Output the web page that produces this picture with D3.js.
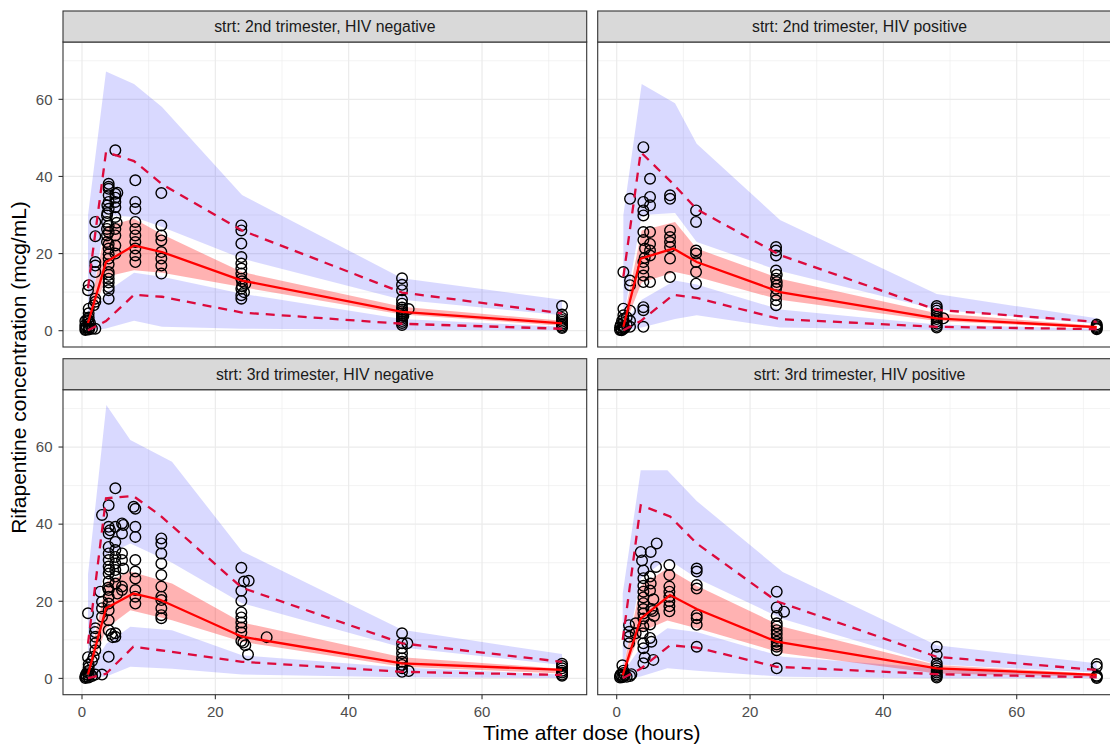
<!DOCTYPE html>
<head>
  <meta charset="utf-8">
  <script src="https://d3js.org/d3.v7.min.js"></script>
  <style>
    body { margin:0; background:#fff; }
    text { font-family: "Liberation Sans", Arial, Helvetica, sans-serif; }
  </style>
</head>
<body>
<script>
// ---- data ----
var stripLabels = ["strt: 2nd trimester, HIV negative", "strt: 2nd trimester, HIV positive",
                   "strt: 3rd trimester, HIV negative", "strt: 3rd trimester, HIV positive"];

// simulated intervals, one row per panel
var simTime = [[0.9, 3.6, 7.8, 12, 24, 48, 72],
               [1.0, 3.75, 8.75, 12, 24.5, 48, 72],
               [0.9, 3.65, 7.25, 13.5, 24, 48, 72],
               [0.9, 3.6, 7.6, 12, 24.9, 48, 72]];
var pi95Hi = [[30, 67.2, 64, 58, 35.2, 13.6, 8.0],
              [30, 64, 59, 48.5, 28.7, 9.5, 3.2],
              [27, 70.9, 61.8, 56.2, 33, 12.6, 6.3],
              [22, 54, 54, 46, 27.6, 8.6, 3.9]];
var pi95Lo = [[2, 30, 29.5, 26.9, 18.7, 8.0, 4.0],
              [3, 30, 30.5, 23, 15.5, 5.5, 1.8],
              [2, 32, 35, 30, 19.5, 8, 3.5],
              [2, 26, 31, 26, 15.4, 3.6, 1.5]];
var medHi = [[3, 27, 29, 25, 15.2, 6.2, 2.6],
             [2.5, 26, 28.2, 21.3, 13.5, 4.5, 1.3],
             [2.5, 25, 27.7, 24.6, 14.5, 5.5, 2.5],
             [2, 24, 28.5, 24, 13.4, 3.5, 1.2]];
var medLo = [[0.5, 14, 15.7, 15, 11.3, 4.2, 1.3],
             [0.5, 12.5, 15.2, 14, 8.0, 2.5, 0.6],
             [0.5, 13, 17.7, 15.1, 9.5, 3.0, 1.3],
             [0.3, 12, 15, 13, 6.5, 1.3, 0.4]];
var pi5Hi = [[1.5, 10, 15, 14, 9.6, 3.0, 1.0],
             [1.5, 8, 13, 12, 5.5, 1.6, 0.5],
             [1.5, 9, 13.4, 12.5, 6.0, 2.8, 1.0],
             [1.5, 8, 13, 12, 5.6, 2.6, 0.8]];
var pi5Lo = [[0, 0.6, 2.6, 1.0, 0.5, 0.2, 0.1],
             [0, 0.8, 3, 4, 0.8, 0.2, 0.05],
             [0, 0.5, 3.0, 2.5, 1.0, 0.3, 0.1],
             [0, 0.5, 2.6, 2.0, 0.4, 0.05, 0.02]];

// observed percentiles
var obsTime = [[0.9, 3.6, 7.8, 12, 24, 48, 72],
               [1.0, 3.6, 8.5, 12, 24.5, 48, 72],
               [0.9, 3.6, 7.7, 11.7, 24, 48, 72],
               [0.9, 3.6, 8, 12, 24, 48, 72]];
var obsP5 = [[0.1, 2.5, 9.3, 8.8, 4.7, 1.8, 0.5],
             [0.1, 2.5, 9.3, 8.5, 3.0, 1.0, 0.4],
             [0.05, 1.2, 8.2, 7.3, 4.3, 1.7, 0.9],
             [0.05, 2.5, 8.6, 8.0, 3.0, 1.1, 0.3]];
var obsP50 = [[2, 17.8, 22.1, 20.4, 13.0, 4.9, 1.9],
              [1, 18.7, 21.3, 17.8, 10.0, 3.2, 0.9],
              [1, 18.2, 22.0, 20.4, 10.8, 3.9, 2.2],
              [0.8, 15.5, 21.6, 18, 9.5, 2.6, 0.9]];
var obsP95 = [[11, 46.3, 44, 38, 26, 9.9, 4.5],
              [14, 46.3, 38, 31.5, 19.6, 5.4, 2.3],
              [9, 46.7, 47.3, 42.3, 23.5, 9.1, 4.3],
              [10, 44.9, 42, 35, 20, 5.6, 2.2]];

// observed concentrations [time, conc]
var obsA = [[0.5,0.2],[0.5,0.8],[0.5,1.5],[0.5,2.5],[0.6,0.4],[0.7,1.0],[0.8,3.0],[1,0.3],[1,0.9],[1,1.8],[1,2.6],[1,3.4],[1,4.5],[1,5.7],[1.1,0.6],[1.2,2.0],[1.5,0.5],[2,0.5],
  [0.9,10.5],[1,11.8],[2,28.2],[2,24.5],[2,17.8],[2,16.9],[2,15.2],[2,8.3],[1.75,6.6],[2,7.5],
  [4,8.3],[4,11.3],[4,13.5],[4,15.2],[4,18.7],[4,21.3],[3.75,23],[3.75,24.7],[3.75,26.4],[3.75,28.2],[3.75,29.9],[4,31.6],[4,33.4],[4,35.1],[4,36.8],[4,38.1],[4,37.3],[3.8,32.5],[3.8,30.5],[4,27.2],[4,25.5],[4,22.5],[4,19.8],[4,17.2],[4,14.5],[4,12.5],[4,10.5],
  [5,46.8],[5,35.5],[5,34.5],[5,33.4],[5,29.5],[5,26.4],[5,24.7],[5,22.1],[5,20.0],[5.3,35.8],[5,32],[5.2,28],
  [8,39],[8,33.4],[8,31.6],[8,28.2],[8,26.4],[8,24.7],[8,23],[8,21.3],[8,19.5],[8,17.8],
  [11.9,35.7],[11.9,27.3],[11.9,24.7],[11.9,23.4],[11.9,20.4],[11.9,18.7],[11.9,16.9],[11.9,14.8],
  [23.9,27.3],[23.9,26],[23.9,22.6],[23.9,19.1],[23.9,17.4],[23.9,16.1],[23.9,14.8],[23.9,13.5],[24,12.8],[24.5,12.2],[23.9,10.9],[23.9,9.2],[23.9,8.3],[24,11.5],[24.3,10],
  [48,13.6],[48,11.9],[48,10.5],[48,8],[48,7],[48,6],[48,5.5],[48,5],[48,4.5],[48,4],[48,3.5],[48,3],[48,2.5],[48,2],[48,1.5],[49,5.6],[48.2,3.8],
  [72,6.4],[72,4.2],[72,3.3],[72,2.8],[72,2.3],[72,1.8],[72,1.4],[72,1.0],[72,0.7]];
var obsB = [[0.5,0.2],[0.5,0.8],[0.6,1.5],[0.7,0.4],[0.8,2.5],[1,0.5],[1,1.0],[1,2.0],[1,3.0],[1,4.0],[1,5.7],[1.2,0.7],[1.5,1.5],[1.5,3.5],[2,1.0],[2,5.2],[0.75,0.1],[2,2.6],
  [1,15.2],[2,13],[2,11.8],[2,34.2],
  [4,47.6],[5,39.4],[4,33.4],[5,34.7],[5,32.5],[4,31.2],[4,29.9],[4,25.6],[5,25.6],[4.25,21.3],[5,20.8],[5,19.5],[4,17.8],[4,16.1],[4,14.3],[4,12.6],[5,12.6],[4,6.1],[4,5.3],[4,1.0],[4,23.5],[5,22.5],[4.2,18.9],
  [8,35.1],[8,34.2],[8,26],[8,24.3],[8,23],[8,21.7],[8,18.7],[8,13.9],
  [11.9,31.2],[11.9,28.2],[11.9,20.8],[11.9,20],[11.9,17.8],[11.9,15.2],[11.9,12.2],
  [23.9,21.7],[23.9,20.8],[23.9,19.5],[23.9,15.6],[23.9,13.5],[24,12.6],[23.9,10.9],[23.9,9.2],[23.9,7.9],[23.9,6.6],[24,14.5],[24,11.7],
  [48,6.4],[48,5.8],[48,5.2],[48,4.4],[48,3.6],[48,3.0],[48,2.4],[48,1.8],[48,1.2],[48,0.8],[49,3.2],
  [72,1.6],[72,1.2],[72,0.9],[72,0.6],[72,0.4]];
var obsC = [[0.5,0.1],[0.5,0.5],[0.6,1.0],[0.7,0.3],[0.8,1.6],[1,0.2],[1,0.8],[1,2.0],[1,2.8],[1,3.6],[1.2,1.2],[1.5,0.6],[1.5,4.5],[2,1.0],[0.9,5.5],
  [0.9,16.9],[2,13],[2,10.8],[2,9.1],[2,7.3],[1.75,5.6],[1.95,12],
  [3,18.2],[3,16],[2.75,22.5],[3,19.9],[3,42.4],[3,1.0],
  [4,44.9],[4,39.3],[4,37.6],[4,34.1],[4,32.4],[4,30.7],[4,29],[4,27.2],[4,25.1],[4,22.9],[4,21.2],[4,19.4],[4,17.7],[4,15.1],[4,12.5],[4,5.6],[4.2,38.4],[3.9,23.5],[4.1,28.2],[4.4,11.5],[4.6,10.7],
  [5,49.3],[5,39.3],[5,35.4],[5,33.3],[5,31.5],[5,29.8],[5,28.1],[5,26.4],[5,24.6],[5,11.7],[5,10.8],[5.3,22],
  [6,40.2],[6,37.6],[6,32.4],[6,30.7],[6,23.8],[6,22.9],[6.2,39.8],[6.2,28.5],
  [7.75,44.5],[8,44],[8,39.3],[8,36.7],[8,30.7],[8,27.7],[8,25.9],[8,22.9],[8,21.2],[8,19.4],
  [11.9,36.3],[11.9,35.0],[11.9,32.4],[11.9,29.8],[11.9,26.8],[11.9,23.8],[11.9,21.2],[11.9,20.3],[11.9,18.2],[11.9,16.4],[11.9,15.6],
  [23.9,28.7],[24.3,25.1],[25,25.3],[23.9,22.7],[23.9,20.1],[23.9,17.1],[23.9,15.8],[23.9,14.5],[23.9,13.2],[23.9,11.9],[23.9,9.7],[24.2,9.3],[24.9,6.2],[27.7,10.7],[24.5,8.6],
  [48,11.7],[48,9.1],[48,7.8],[48,6.5],[48,5.2],[48,4.3],[48,3.5],[48,2.6],[48,1.7],[49,1.9],[48.8,9.1],
  [72,3.8],[72,3.2],[72,2.6],[72,2.0],[72,1.5],[72,1.0],[72,0.7]];
var obsD = [[0.5,0.2],[0.5,0.6],[0.6,1.0],[0.8,0.3],[1,0.5],[1,1.4],[1,2.0],[1.2,0.8],[0.85,3.4],[1.5,0.4],[2,0.6],[2.2,1.1],
  [1.85,13.8],[1.85,12.1],[1.85,10.8],[1.85,9.1],[2.85,14.3],[2.85,11.7],
  [3.6,32.8],[3.8,30.6],[4,28],[4,26],[4,24],[4,22.5],[4,21],[4,19.5],[4,18],[4,16.8],[4,15.5],[4,13.5],[3.9,11.7],[4,9.1],[4,7.8],[4.2,5.4],[4,3.9],
  [5.1,32.8],[6,35],[5.9,28.9],[5,26.4],[5.1,24.6],[5,22.8],[5.5,20.5],[5.2,18],[5.4,17.5],[5.6,16.2],[5,14],[5,10.5],[5.2,9.5],[5.5,4.8],
  [7.9,29.4],[7.9,26.8],[7.9,23.8],[7.9,22.5],[7.9,21.2],[7.9,20],[7.9,18.7],[7.9,17.4],
  [12,28.5],[12,27.7],[12,24.2],[12,23.3],[12,16.4],[12,15.6],[12,13.9],[12,8.2],
  [24,22.5],[24,18.4],[25.1,17.3],[24,16.2],[24,14.3],[24,13.5],[24,12.5],[24,11.5],[24,10.5],[24,9.5],[24,8.8],[24,8.2],[24,7.3],[24,2.6],
  [48,8.2],[48,6.1],[48,3.9],[48,3.2],[48,2.6],[48,2.0],[48,1.5],[48,1.0],[48,0.6],[48,0.2],
  [72,3.7],[72,3.0],[72,0.4],[72,0.1],[72,0.7]];
var obsPoints = [obsA, obsB, obsC, obsD];

var xTicks = [0, 20, 40, 60], xMinor = [10, 30, 50, 70];
var yTicks = [0, 20, 40, 60], yMinor = [10, 30, 50, 70];

// ---- layout ----
var width = 1110, height = 745;
var colX = [63, 597.7], panelW = 523.7;
var rowY = [11, 358.7], stripH = 31, panelH = 305;

var svg = d3.select("body").append("svg")
    .attr("width", width).attr("height", height);

var x = d3.scaleLinear().domain([-2.85, 75.7]).range([0, panelW]);
var y = d3.scaleLinear().domain([-4.23, 74.87]).range([panelH, 0]);

var area = function(lo, hi, t) {
  return d3.area()
    .x(function(d, i) { return x(t[i]); })
    .y0(function(d, i) { return y(lo[i]); })
    .y1(function(d, i) { return y(hi[i]); })(t);
};
var line = function(v, t) {
  return d3.line()
    .x(function(d, i) { return x(t[i]); })
    .y(function(d, i) { return y(v[i]); })(t);
};

stripLabels.forEach(function(label, p) {
  var col = p % 2, row = Math.floor(p / 2);
  var g = svg.append("g")
      .attr("transform", "translate(" + colX[col] + "," + (rowY[row] + stripH) + ")");

  // strip
  svg.append("rect")
      .attr("x", colX[col]).attr("y", rowY[row])
      .attr("width", panelW).attr("height", stripH)
      .attr("fill", "#D9D9D9").attr("stroke", "#333333").attr("stroke-width", 1.1);
  svg.append("text")
      .attr("x", colX[col] + panelW / 2).attr("y", rowY[row] + 21.3)
      .attr("text-anchor", "middle").attr("font-size", "15.8px").attr("fill", "#1A1A1A")
      .text(label);

  g.append("clipPath").attr("id", "clip" + p)
    .append("rect").attr("width", panelW).attr("height", panelH);

  // grid
  var grid = g.append("g");
  grid.selectAll(".xm").data(xMinor).enter().append("line")
      .attr("x1", x).attr("x2", x).attr("y1", 0).attr("y2", panelH)
      .attr("stroke", "#EBEBEB").attr("stroke-width", 0.6);
  grid.selectAll(".ym").data(yMinor).enter().append("line")
      .attr("y1", y).attr("y2", y).attr("x1", 0).attr("x2", panelW)
      .attr("stroke", "#EBEBEB").attr("stroke-width", 0.6);
  grid.selectAll(".xM").data(xTicks).enter().append("line")
      .attr("x1", x).attr("x2", x).attr("y1", 0).attr("y2", panelH)
      .attr("stroke", "#EBEBEB").attr("stroke-width", 1.2);
  grid.selectAll(".yM").data(yTicks).enter().append("line")
      .attr("y1", y).attr("y2", y).attr("x1", 0).attr("x2", panelW)
      .attr("stroke", "#EBEBEB").attr("stroke-width", 1.2);

  var plot = g.append("g").attr("clip-path", "url(#clip" + p + ")");
  var t = simTime[p];

  // simulated ribbons
  plot.append("path").attr("d", area(pi95Lo[p], pi95Hi[p], t))
      .attr("fill", "blue").attr("fill-opacity", 0.15);
  plot.append("path").attr("d", area(pi5Lo[p], pi5Hi[p], t))
      .attr("fill", "blue").attr("fill-opacity", 0.15);
  plot.append("path").attr("d", area(medLo[p], medHi[p], t))
      .attr("fill", "red").attr("fill-opacity", 0.3);

  // observations
  plot.selectAll("circle").data(obsPoints[p]).enter().append("circle")
      .attr("cx", function(d) { return x(d[0]); })
      .attr("cy", function(d) { return y(d[1]); })
      .attr("r", 5.3)
      .attr("fill", "none").attr("stroke", "black").attr("stroke-width", 1.4);

  // observed percentiles
  var to = obsTime[p];
  plot.append("path").attr("d", line(obsP50[p], to))
      .attr("fill", "none").attr("stroke", "#FF0000").attr("stroke-width", 2.3);
  [obsP5[p], obsP95[p]].forEach(function(v) {
    plot.append("path").attr("d", line(v, to))
        .attr("fill", "none").attr("stroke", "#DC0A3C").attr("stroke-width", 2.3)
        .attr("stroke-dasharray", "9,7");
  });

  // border
  g.append("rect").attr("width", panelW).attr("height", panelH)
      .attr("fill", "none").attr("stroke", "#333333").attr("stroke-width", 1.1);

  // axes
  if (col == 0) {
    g.selectAll(".yt").data(yTicks).enter().append("line")
        .attr("x1", -4.5).attr("x2", 0).attr("y1", y).attr("y2", y)
        .attr("stroke", "#333333").attr("stroke-width", 1.1);
    g.selectAll(".yl").data(yTicks).enter().append("text")
        .attr("x", -10.5).attr("y", function(d) { return y(d) + 5.3; })
        .attr("text-anchor", "end").attr("font-size", "15px").attr("fill", "#4D4D4D")
        .text(function(d) { return d; });
  }
  if (row == 1) {
    g.selectAll(".xt").data(xTicks).enter().append("line")
        .attr("y1", panelH).attr("y2", panelH + 4.5).attr("x1", x).attr("x2", x)
        .attr("stroke", "#333333").attr("stroke-width", 1.1);
    g.selectAll(".xl").data(xTicks).enter().append("text")
        .attr("x", x).attr("y", panelH + 22.6)
        .attr("text-anchor", "middle").attr("font-size", "15px").attr("fill", "#4D4D4D")
        .text(function(d) { return d; });
  }
});

// axis titles
svg.append("text")
    .attr("x", 591.7).attr("y", 740)
    .attr("text-anchor", "middle").attr("font-size", "21px").attr("fill", "black")
    .text("Time after dose (hours)");
svg.append("text")
    .attr("transform", "translate(25.5,367.5) rotate(-90)")
    .attr("text-anchor", "middle").attr("font-size", "21px").attr("fill", "black")
    .text("Rifapentine concentration (mcg/mL)");
</script>
</body>
